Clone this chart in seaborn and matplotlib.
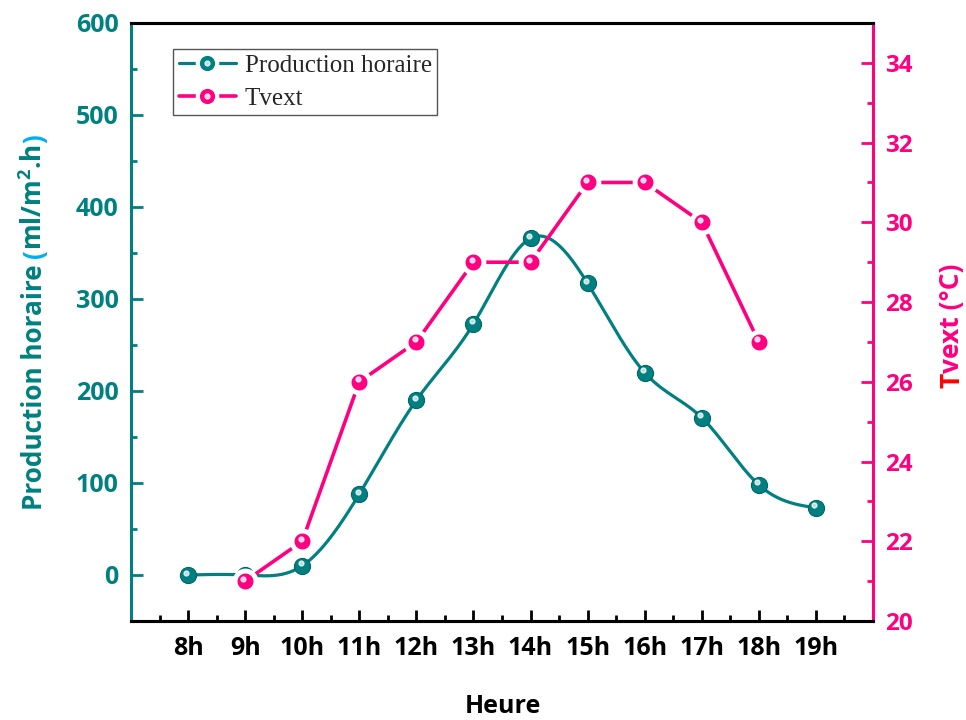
import numpy as np
import matplotlib
matplotlib.use('Agg')
import matplotlib.pyplot as plt
import matplotlib.transforms as mtransforms
from matplotlib.lines import Line2D
from matplotlib.legend_handler import HandlerTuple
import seaborn as sns
import pandas as pd

# ---------------- data ----------------
hours = ['8h', '9h', '10h', '11h', '12h', '13h', '14h', '15h', '16h', '17h', '18h', '19h']
production = [0, 0, 10, 88, 190, 273, 366, 317, 220, 171, 98, 73]
tvext_hours = ['9h', '10h', '11h', '12h', '13h', '14h', '15h', '16h', '17h', '18h']
tvext = [21, 22, 26, 27, 29, 29, 31, 31, 30, 27]

TEAL = '#008080'
TEAL_DARK = '#006666'
PINK = '#FF0080'
LIGHTBLUE = '#00B0F0'
RED = '#FF0000'

sns.set_theme(style='white')
plt.rcParams['font.family'] = ['Open Sans', 'DejaVu Sans']
plt.rcParams['mathtext.fontset'] = 'custom'
plt.rcParams['mathtext.rm'] = 'Open Sans'
plt.rcParams['mathtext.bf'] = 'Open Sans:bold'

W, H = 966, 720
fig = plt.figure(figsize=(W / 100, H / 100), dpi=100)
L, R, B, T = 131, 873, 621, 23
ax = fig.add_axes([L / W, (H - B) / H, (R - L) / W, (B - T) / H])
ax2 = ax.twinx()

df_p = pd.DataFrame({'x': np.arange(len(hours)), 'y': production})
df_t = pd.DataFrame({'x': [hours.index(h) for h in tvext_hours], 'y': tvext})


def natural_spline(x, y, n=600):
    x = np.asarray(x, float)
    y = np.asarray(y, float)
    m = len(x)
    h = np.diff(x)
    A = np.zeros((m, m))
    b = np.zeros(m)
    A[0, 0] = 1
    A[-1, -1] = 1
    for i in range(1, m - 1):
        A[i, i - 1] = h[i - 1]
        A[i, i] = 2 * (h[i - 1] + h[i])
        A[i, i + 1] = h[i]
        b[i] = 3 * ((y[i + 1] - y[i]) / h[i] - (y[i] - y[i - 1]) / h[i - 1])
    c = np.linalg.solve(A, b)
    bb = (y[1:] - y[:-1]) / h - h * (2 * c[:-1] + c[1:]) / 3
    d = (c[1:] - c[:-1]) / (3 * h)
    xs = np.linspace(x[0], x[-1], n)
    idx = np.clip(np.searchsorted(x, xs) - 1, 0, m - 2)
    dx = xs - x[idx]
    ys = y[idx] + bb[idx] * dx + c[idx] * dx ** 2 + d[idx] * dx ** 3
    return xs, ys


# production: smooth curve + markers
xs, ys = natural_spline(df_p['x'], df_p['y'])
ax.plot(xs, ys, color=TEAL, lw=2.3, zorder=2)
sns.scatterplot(data=df_p, x='x', y='y', ax=ax, color=TEAL, s=135,
                edgecolor=TEAL_DARK, linewidth=0.8, zorder=3, legend=False)
hl = mtransforms.offset_copy(ax.transData, fig=fig, x=-1.2, y=1.8, units='points')
ax.plot(df_p['x'], df_p['y'], ls='none', marker='o', ms=3.5, color='white',
        alpha=0.75, transform=hl, zorder=4)

# Tvext: straight line + markers
sns.lineplot(data=df_t, x='x', y='y', ax=ax2, color=PINK, lw=2.6, marker='o',
             markersize=15, markerfacecolor=PINK, markeredgecolor='white',
             markeredgewidth=3.5, zorder=3)
hl2 = mtransforms.offset_copy(ax2.transData, fig=fig, x=-1.2, y=1.8, units='points')
ax2.plot(df_t['x'], df_t['y'], ls='none', marker='o', ms=3.5, color='white',
         alpha=0.8, transform=hl2, zorder=4)

# axes limits & ticks
ax.set_xlim(-1, 12)
ax.set_ylim(-50, 600)
ax2.set_ylim(20, 35)
ax.set_xticks(np.arange(len(hours)))
ax.set_xticklabels(hours)
ax.set_xticks(np.arange(-0.5, 12, 1.0), minor=True)
ax.set_yticks(np.arange(0, 601, 100))
ax.set_yticks(np.arange(50, 600, 100), minor=True)
ax2.set_yticks(np.arange(20, 35, 2))
ax2.set_yticks(np.arange(21, 35, 2), minor=True)
ax.set_xlabel('')
ax.set_ylabel('')
ax2.set_ylabel('')

for s in ['left', 'right', 'top', 'bottom']:
    ax.spines[s].set_linewidth(2.2)
    ax2.spines[s].set_linewidth(2.2)
ax.spines['left'].set_color(TEAL)
ax.spines['bottom'].set_color('black')
ax.spines['top'].set_color('black')
ax.spines['right'].set_visible(False)
ax2.spines['right'].set_color(PINK)
ax2.spines['left'].set_visible(False)
ax2.spines['top'].set_color('black')
ax2.spines['bottom'].set_color('black')

ax.tick_params(axis='x', which='major', direction='in', length=8, width=2,
               color='black', labelsize=18, labelcolor='black', pad=11,
               bottom=True, top=False)
ax.tick_params(axis='x', which='minor', direction='in', length=4, width=2,
               color='black', bottom=True, top=False)
ax.tick_params(axis='y', which='major', direction='in', length=8.5, width=2,
               color=TEAL, labelsize=18, labelcolor=TEAL, pad=9, left=True)
ax.tick_params(axis='y', which='minor', direction='in', length=4.5, width=2,
               color=TEAL, left=True)
ax2.tick_params(axis='y', which='major', direction='in', length=8.5, width=2,
                color=PINK, labelsize=17.5, labelcolor=PINK, pad=9, right=True)
ax2.tick_params(axis='y', which='minor', direction='in', length=4.5, width=2,
                color=PINK, right=True)
for lab in ax.get_xticklabels() + ax.get_yticklabels() + ax2.get_yticklabels():
    lab.set_fontweight('bold')

ax.set_zorder(1)
ax2.set_zorder(2)
ax2.patch.set_visible(False)

# legend
h_p = Line2D([], [], color=TEAL, lw=2.3, marker='o', ms=14, mfc=TEAL, mec='white', mew=3)
h_ph = Line2D([], [], ls='none', marker='o', ms=3.5, color='white', alpha=0.75)
h_t = Line2D([], [], color=PINK, lw=2.6, marker='o', ms=14, mfc=PINK, mec='white', mew=3)
h_th = Line2D([], [], ls='none', marker='o', ms=3.5, color='white', alpha=0.8)
leg = ax2.legend([(h_p, h_ph), (h_t, h_th)], ['Production horaire', 'Tvext'],
                 handler_map={tuple: HandlerTuple(ndivide=1)},
                 loc='upper left', bbox_to_anchor=((173 - L) / (R - L), (B - 49) / (B - T)),
                 borderaxespad=0, fancybox=False, framealpha=1, edgecolor='#555555',
                 prop={'family': 'Liberation Serif', 'size': 18}, handlelength=2.3,
                 handletextpad=0.35, labelspacing=0.42, borderpad=0.22)
leg.get_frame().set_linewidth(1.0)

# x label
fig.text(503 / W, (H - 719) / H, 'Heure', ha='center', va='bottom',
         fontsize=18, fontweight='bold', color='black')

renderer = fig.canvas.get_renderer()


def vertical_rainbow(x_px, y_px_bottom, pieces, size):
    pos = H - y_px_bottom
    for txt, col, gap in pieces:
        t = fig.text(x_px / W, pos / H, txt, color=col, rotation=90,
                     rotation_mode='anchor', ha='left', va='baseline',
                     fontsize=size, fontweight='bold')
        bb = t.get_window_extent(renderer)
        pos = bb.y1 + gap


vertical_rainbow(42, 510, [
    ('Production horaire', TEAL, 6),
    ('(', LIGHTBLUE, 0),
    (r'ml/m$^{\mathbf{2}}$.h', TEAL, 0),
    (')', LIGHTBLUE, 0),
], 18.8)

vertical_rainbow(959, 388, [
    ('T', RED, 0),
    ('vext (°C)', PINK, 0),
], 19)

fig.savefig('out.png', dpi=100)
